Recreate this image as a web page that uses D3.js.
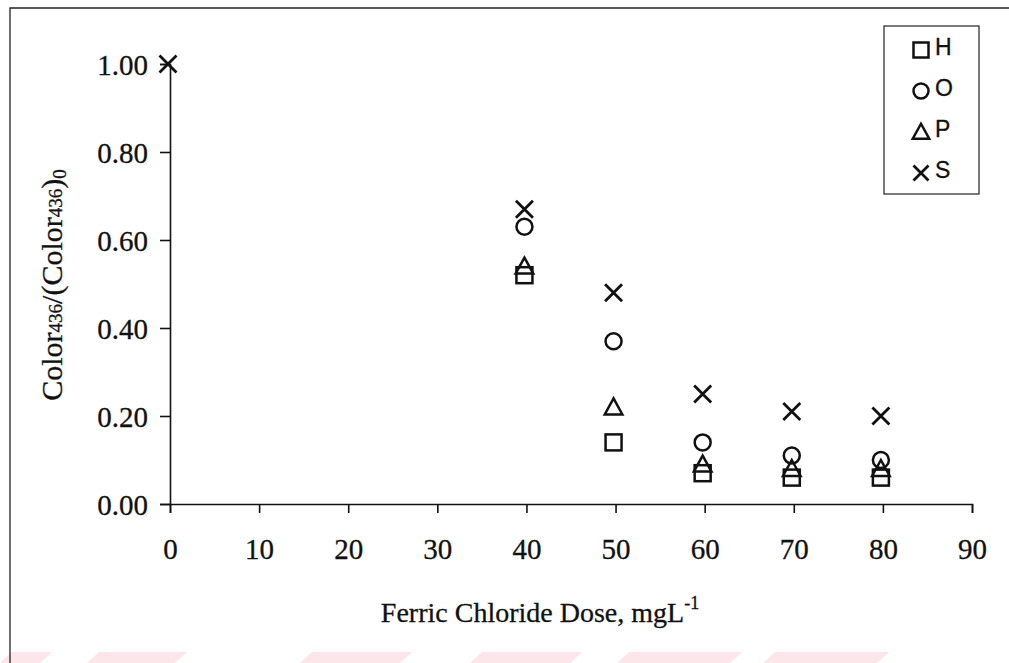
<!DOCTYPE html>
<html>
<head>
<meta charset="utf-8">
<script src="https://cdn.jsdelivr.net/npm/d3@7"></script>
<style>
  body { margin: 0; background: #fff; }
  svg { display: block; }
  .tick text { font-family: "Liberation Serif", "Times New Roman", serif; font-size: 29px; fill: #111; stroke: #111; stroke-width: 0.3px; }
  .legend text { font-family: "Liberation Sans", Arial, sans-serif; font-size: 23px; fill: #111; stroke: #111; stroke-width: 0.3px; }
  .title { font-family: "Liberation Serif", "Times New Roman", serif; fill: #111; stroke: #111; stroke-width: 0.3px; }
</style>
</head>
<body>
<svg width="1009" height="663"></svg>
<script>
// ferric chloride dose (mg/L)
const doses = [0, 40, 50, 60, 70, 80];
// Color436/(Color436)0 for each water sample
const H = [null, 0.52, 0.14, 0.07, 0.06, 0.06];
const O = [null, 0.63, 0.37, 0.14, 0.11, 0.10];
const P = [null, 0.54, 0.22, 0.09, 0.08, 0.08];
const S = [1.00, 0.67, 0.48, 0.25, 0.21, 0.20];
const seriesNames = ['H', 'O', 'P', 'S'];
const xTicks = [0, 10, 20, 30, 40, 50, 60, 70, 80, 90];
const yTicks = [0, 0.2, 0.4, 0.6, 0.8, 1.0];

const svg = d3.select('svg');

// faint pink watermark band along the bottom
const pink = [[0, 40], [87, 175], [300, 400], [470, 570], [617, 730], [763, 877]];
svg.selectAll('.wm')
  .data(pink)
  .enter()
  .append('path')
  .attr('fill', '#fce6e9')
  .attr('d', (p) => `M${p[0] + 12},652 L${p[1] + 12},652 L${p[1]},663 L${p[0]},663 Z`);

// outer frame (left + top only, like the scan)
svg.append('path')
  .attr('d', 'M10,663 L10,8 L1009,8')
  .attr('fill', 'none')
  .attr('stroke', '#222')
  .attr('stroke-width', 1.3);

const x = d3.scaleLinear().domain([0, 90]).range([170, 972]);
const y = d3.scaleLinear().domain([0, 1]).range([504, 64]);

const xAxis = svg.append('g')
  .attr('transform', `translate(0, ${y(0)})`)
  .call(d3.axisBottom(x).tickValues(xTicks).tickSize(9).tickPadding(25).tickFormat(d3.format('d')));
xAxis.select('.domain').attr('stroke', '#111').attr('stroke-width', 1.6);
xAxis.selectAll('.tick line').attr('stroke', '#111').attr('stroke-width', 1.6);

const yAxis = svg.append('g')
  .attr('transform', `translate(${x(0)}, 0)`)
  .call(d3.axisLeft(y).tickValues(yTicks).tickSize(10).tickPadding(12).tickFormat(d3.format('.2f')));
yAxis.select('.domain').attr('stroke', '#111').attr('stroke-width', 1.6);
yAxis.selectAll('.tick line').attr('stroke', '#111').attr('stroke-width', 1.6);
yAxis.selectAll('.tick text').attr('dy', '0.36em');

// axis titles
svg.append('text')
  .attr('class', 'title')
  .attr('x', 540)
  .attr('y', 622)
  .attr('text-anchor', 'middle')
  .style('font-size', '28px')
  .html('Ferric Chloride Dose, mgL<tspan dy="-13" font-size="18">-1</tspan>');

svg.append('text')
  .attr('class', 'title')
  .attr('transform', 'translate(62, 285) rotate(-90)')
  .attr('text-anchor', 'middle')
  .style('font-size', '30px')
  .html('Color<tspan font-size="19">436</tspan>/(Color<tspan font-size="19">436</tspan>)<tspan font-size="19" dy="4">0</tspan>');

// marker shapes
function marker (g, name, s) {
  if (name === 'H') {
    g.append('rect').attr('x', -s / 2).attr('y', -s / 2).attr('width', s).attr('height', s);
  } else if (name === 'O') {
    g.append('circle').attr('r', s / 2);
  } else if (name === 'P') {
    g.append('path').attr('d', `M0,${-s * 0.55} L${s * 0.55},${s * 0.45} L${-s * 0.55},${s * 0.45} Z`);
  } else {
    g.append('path').attr('d', `M${-s / 2},${-s / 2} L${s / 2},${s / 2} M${s / 2},${-s / 2} L${-s / 2},${s / 2}`);
  }
  g.attr('fill', 'none').attr('stroke', '#111').attr('stroke-width', name === 'S' ? 2.8 : 2.5);
}

const values = { H: H, O: O, P: P, S: S };
seriesNames.forEach((name) => {
  const pts = doses.map((d, i) => ({ dose: d, v: values[name][i] })).filter((p) => p.v !== null);
  svg.selectAll('.pt-' + name)
    .data(pts)
    .enter()
    .append('g')
    .attr('class', 'pt-' + name)
    .attr('transform', (p) => `translate(${x(p.dose) - 2}, ${y(p.v)})`)
    .each(function () { marker(d3.select(this), name, name === 'S' ? 17 : 16); });
});

// legend
const legend = svg.append('g').attr('class', 'legend');
legend.append('rect')
  .attr('x', 884).attr('y', 26).attr('width', 95).attr('height', 168)
  .attr('fill', '#fff').attr('stroke', '#222').attr('stroke-width', 1.2);
seriesNames.forEach((name, i) => {
  const ly = 47 + i * 41;
  marker(legend.append('g').attr('transform', `translate(921, ${ly + 3})`), name, 15);
  legend.append('text').attr('x', 935).attr('y', ly).attr('dy', '0.35em').text(name);
});
</script>
</body>
</html>
